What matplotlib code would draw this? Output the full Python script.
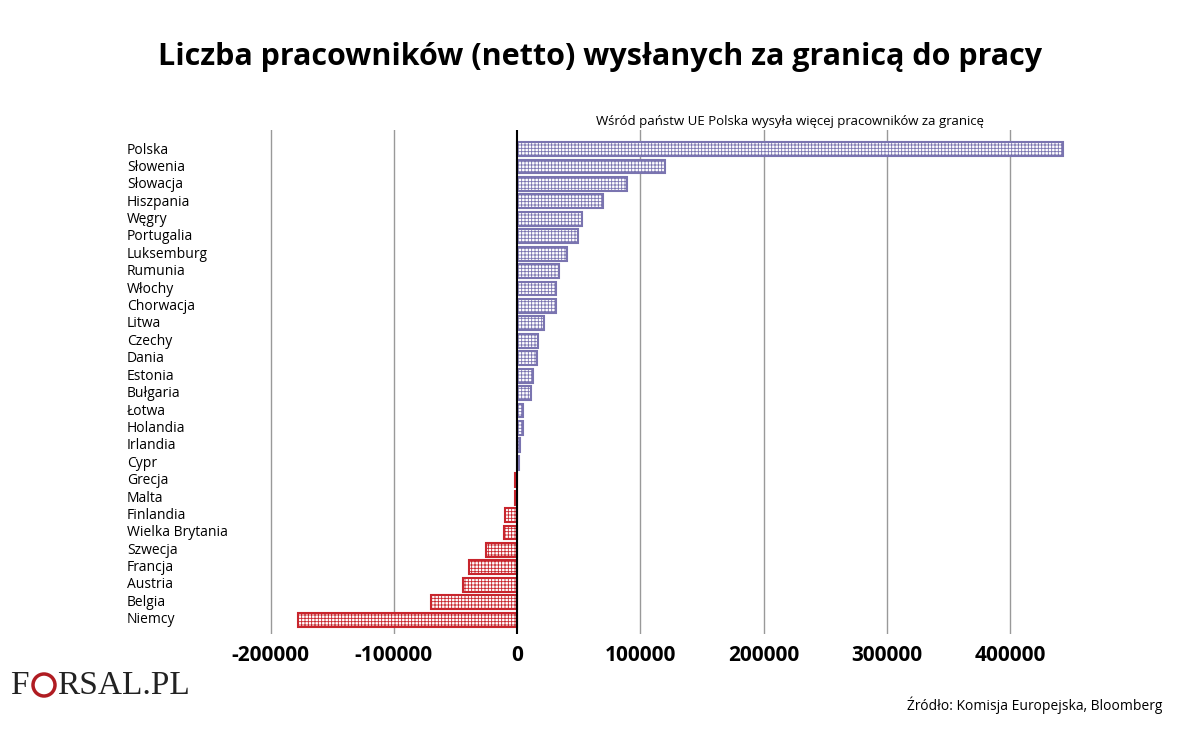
import matplotlib
matplotlib.use("Agg")
import matplotlib.pyplot as plt
import matplotlib as mpl

countries = ["Polska","Słowenia","Słowacja","Hiszpania","Węgry","Portugalia","Luksemburg","Rumunia",
             "Włochy","Chorwacja","Litwa","Czechy","Dania","Estonia","Bułgaria","Łotwa","Holandia",
             "Irlandia","Cypr","Grecja","Malta","Finlandia","Wielka Brytania","Szwecja","Francja",
             "Austria","Belgia","Niemcy"]
values = [443000,120000,89000,70000,53000,49000,40500,34000,31600,31600,22000,17000,16000,13000,11000,
          5000,5000,2500,1500,-1500,-1500,-10000,-10500,-25000,-39000,-44000,-70000,-178000]
ticks = [-200000,-100000,0,100000,200000,300000,400000]

mpl.rcParams['hatch.linewidth'] = 0.6
fig = plt.figure(figsize=(12, 7.35), dpi=100)
ax = fig.add_axes([0.205, 0.138, 0.683, 0.685])
n = len(countries)
ys = list(range(n))
for y, v in zip(ys, values):
    col = "#7a74b0" if v >= 0 else "#c8252d"
    ax.barh(y, v, height=0.8, facecolor="white", edgecolor=col, hatch="+++++", linewidth=1.5, zorder=3)
ax.set_ylim(27.8, -1.09)
ax.set_xlim(-220000, 445000)
for t in ticks:
    if t != 0:
        ax.axvline(t, color="#999999", lw=1, zorder=1)
ax.axvline(0, color="black", lw=1.5, zorder=4)
for s in ax.spines.values():
    s.set_visible(False)
ax.set_yticks([])
ax.set_xticks(ticks)
ax.set_xticklabels([str(t) for t in ticks], fontsize=15, fontweight="bold", family="Open Sans")
ax.tick_params(axis="x", length=0, pad=8)
for y, c in zip(ys, countries):
    fig.text(127/1200, 1 - (150 + y*17.4)/735, c, fontsize=10, family="Open Sans", va="center", ha="left")
fig.text(0.5, 1 - 57/735, "Liczba pracowników (netto) wysłanych za granicą do pracy",
         fontsize=22, fontweight="bold", family="Open Sans", ha="center", va="center")
fig.text(790/1200, 1 - 121/735, "Wśród państw UE Polska wysyła więcej pracowników za granicę",
         fontsize=9.5, family="Open Sans", ha="center", va="center")
fig.text(1162/1200, 1 - 705/735, "Źródło: Komisja Europejska, Bloomberg",
         fontsize=10, family="Open Sans", ha="right", va="center")
fig.text(10/1200, 1 - 686/735, "F", fontsize=24, family="Liberation Serif", color="#222222", va="center")
fig.text(57/1200, 1 - 686/735, "RSAL.PL", fontsize=24, family="Liberation Serif", color="#222222", va="center")
fig.patches.append(mpl.patches.Ellipse((44/1200, 1 - 685/735), 22/1200, 22/735, transform=fig.transFigure,
                                       fill=False, edgecolor="#b01c22", lw=2.5))
fig.savefig("out.png", dpi=100)
